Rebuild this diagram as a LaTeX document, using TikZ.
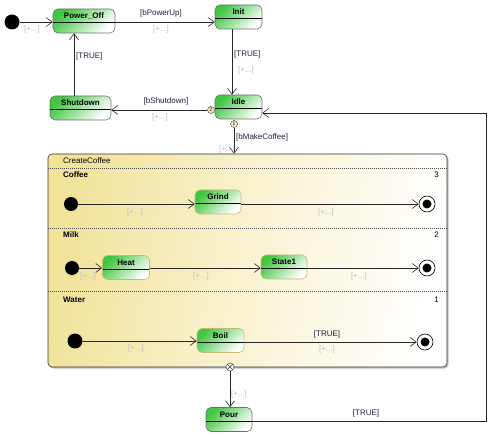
\documentclass[tikz,border=0pt]{standalone}
\usepackage{fontspec}
\setmainfont{Liberation Sans}
\usetikzlibrary{arrows.meta}
\definecolor{stgreen}{HTML}{40C640}
\definecolor{stborder}{HTML}{6E6E6E}
\definecolor{inborder}{HTML}{C8B878}
\definecolor{ccyellow}{HTML}{F1E39A}
\definecolor{lblcol}{HTML}{1E1E3C}
\definecolor{faint}{HTML}{B8C0CC}
\tikzset{
  statebox/.style={rectangle, rounded corners=5pt, draw=stborder, line width=0.6pt,
    top color=stgreen, bottom color=white, shading angle=45,
    inner sep=0pt, text height=10pt, text depth=14pt, minimum height=24pt,
    font=\fontsize{8}{9}\selectfont\bfseries,
    path picture={\draw[black, line width=0.6pt]
      ([yshift=-1.5pt]path picture bounding box.west) -- ([yshift=-1.5pt]path picture bounding box.east);}},
  instate/.style={statebox, draw=inborder},
  initst/.style={circle, fill=black, minimum size=15pt, inner sep=0pt},
  finalst/.style={circle, draw=black, line width=0.6pt, fill=white, minimum size=16pt, inner sep=0pt,
    path picture={\fill[black] (path picture bounding box.center) circle (4.5pt);}},
  trans/.style={draw=black!85, line width=0.6pt, -{Straight Barb[length=6pt,width=9pt]}},
  guard/.style={font=\fontsize{8}{9}\selectfont, text=lblcol, inner sep=0pt},
  faintlbl/.style={guard, text=faint},
  reglbl/.style={font=\fontsize{8}{9}\selectfont, text=black, inner sep=0pt},
  regname/.style={reglbl, font=\fontsize{8}{9}\selectfont\bfseries},
  ordmark/.style={circle, draw=black!80, fill=ccyellow!60, minimum size=7pt, inner sep=0pt,
    font=\fontsize{5}{5}\selectfont},
  exitpt/.style={circle, draw=black!80, fill=white, minimum size=8pt, inner sep=0pt,
    path picture={\draw[black!80] (path picture bounding box.south west) -- (path picture bounding box.north east)
      (path picture bounding box.north west) -- (path picture bounding box.south east);}},
  ccbox/.style={rectangle, rounded corners=4pt, draw=black!80, line width=0.6pt,
    left color=ccyellow, right color=white, middle color=ccyellow!45!white, shading angle=80, inner sep=0pt},
}
\begin{document}
\begin{tikzpicture}[x=1pt,y=-1pt]
\useasboundingbox (0,0) rectangle (503,435);
% composite state
\fill[black!25, rounded corners=4pt] (49.5,155.5) rectangle (448.5,368.5);
\node[ccbox, minimum width=399pt, minimum height=213pt] (cc) at (247.5,260.5) {};
\draw[black!70, dash pattern=on 1pt off 1pt] (48,168) -- (447,168);
\draw[black!70, dash pattern=on 1pt off 1pt] (48,228) -- (447,228);
\draw[black!70, dash pattern=on 1pt off 1pt] (48,291) -- (447,291);
\node[reglbl, anchor=west] (ccname) at (63,160.5) {CreateCoffee};
\node[regname, anchor=west] (rcoffee) at (63,175) {Coffee};
\node[reglbl, anchor=east] (n3) at (439,175) {3};
\node[regname, anchor=west] (rmilk) at (63,235) {Milk};
\node[reglbl, anchor=east] (n2) at (439,235) {2};
\node[regname, anchor=west] (rwater) at (63,300) {Water};
\node[reglbl, anchor=east] (n1) at (439,300) {1};

% top level states
\node[initst] (i0) at (12,22) {};
\node[statebox, minimum width=62pt] (poweroff) at (84,21) {Power\_Off};
\node[statebox, minimum width=47pt] (init) at (238.5,17) {Init};
\node[statebox, minimum width=47pt] (idle) at (238.5,107) {Idle};
\node[statebox, minimum width=61pt] (shutdown) at (80.5,108) {Shutdown};
\node[statebox, minimum width=46pt] (pour) at (229,419.5) {Pour};

% inner states
\node[initst, minimum size=14pt] (ci1) at (71,204) {};
\node[instate, minimum width=46pt] (grind) at (218,202) {Grind};
\node[finalst] (cf1) at (427,204) {};
\node[initst, minimum size=14pt] (ci2) at (72,268) {};
\node[instate, minimum width=47pt] (heat) at (126,267.5) {Heat};
\node[instate, minimum width=46pt] (state1) at (284,267) {State1};
\node[finalst] (cf2) at (427,268) {};
\node[initst, minimum size=15pt] (ci3) at (75,341) {};
\node[instate, minimum width=47pt] (boil) at (220.5,340.5) {Boil};
\node[finalst] (cf3) at (425,342) {};

% markers
\node[ordmark] (o2) at (211,110) {2};
\node[ordmark] (o1) at (234,124) {1};
\node[exitpt] (ex) at (230,367) {};

% transitions
\draw[trans] (i0) -- (i0 -| poweroff.west);
\draw[trans] ([yshift=-1pt]poweroff.east) -- ([yshift=-1pt]poweroff.east -| init.west);
\draw[trans] ([xshift=-6.5pt]init.south) -- ([xshift=-6.5pt]idle.north);
\draw[trans] (o2) -- (o2 -| shutdown.east);
\draw[trans] ([xshift=-6.5pt]shutdown.north) -- ([xshift=-6.5pt]shutdown.north |- poweroff.south);
\draw[trans] (o1) -- (o1 |- cc.north);
\draw[trans] (ex) -- (ex |- pour.north);
\coordinate (c1) at (486,421);
\coordinate (c2) at (486,113);
\draw[trans] ([yshift=-1.5pt]pour.east) -- (c1) -- (c2) -- (c2 -| idle.east);

\draw[trans] (ci1) -- (ci1 -| grind.west);
\draw[trans] ([yshift=-2pt]grind.east) -- (cf1);
\draw[trans] (ci2) -- (ci2 -| heat.west);
\draw[trans] ([yshift=-0.5pt]heat.east) -- ([yshift=-0.5pt]heat.east -| state1.west);
\draw[trans] ([yshift=-1pt]state1.east) -- (cf2);
\draw[trans] (ci3) -- (ci3 -| boil.west);
\draw[trans] ([yshift=-1.5pt]boil.east) -- (cf3);

% labels
\node[faintlbl] (l1) at (32,29) {[+...]};
\node[guard] (l2) at (161,13) {[bPowerUp]};
\node[faintlbl] (l3) at (161,29) {[+...]};
\node[guard, anchor=west] (l4) at (234,54) {[TRUE]};
\node[faintlbl] (l5) at (246,70) {[+...]};
\node[guard] (l6) at (166,101) {[bShutdown]};
\node[faintlbl] (l7) at (160,117) {[+...]};
\node[guard, anchor=west] (l8) at (76,56) {[TRUE]};
\node[guard, anchor=west] (l9) at (236,137) {[bMakeCoffee]};
\node[faintlbl] (l10) at (227,149) {[+...]};
\node[faintlbl] (l11) at (135,212) {[+...]};
\node[faintlbl] (l12) at (326,212) {[+...]};
\node[faintlbl] (l13) at (88,276) {[+...]};
\node[faintlbl] (l14) at (201,276) {[+...]};
\node[faintlbl] (l15) at (359,276) {[+...]};
\node[faintlbl] (l16) at (136,348) {[+...]};
\node[guard] (l17) at (327,334) {[TRUE]};
\node[faintlbl] (l18) at (327,349) {[+...]};
\node[faintlbl] (l19) at (239,394) {[+...]};
\node[guard] (l20) at (366,413) {[TRUE]};
\end{tikzpicture}
\end{document}
